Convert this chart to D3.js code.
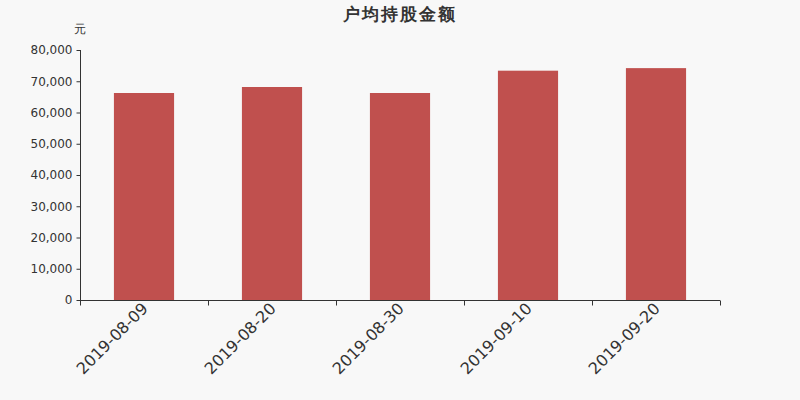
<!DOCTYPE html>
<html>
<head>
<meta charset="utf-8">
<script src="https://cdn.jsdelivr.net/npm/d3@7/dist/d3.min.js"></script>
<style>
  html, body { margin: 0; padding: 0; background: #f8f8f8; }
  svg { display: block; }
  svg text { font-family: "DejaVu Sans", sans-serif; }
</style>
</head>
<body>
<svg id="chart" width="800" height="400"></svg>
<script>
const categories = ["2019-08-09", "2019-08-20", "2019-08-30", "2019-09-10", "2019-09-20"];
const values = [66240, 68160, 66240, 73380, 74200];
const yTicks = [0, 10000, 20000, 30000, 40000, 50000, 60000, 70000, 80000];

const width = 800, height = 400;
const margin = { top: 50, right: 80, bottom: 100, left: 80 };
const innerWidth = width - margin.left - margin.right;
const innerHeight = height - margin.top - margin.bottom;

const svg = d3.select("#chart");

svg.append("rect")
    .attr("width", width)
    .attr("height", height)
    .attr("fill", "#f8f8f8");

const g = svg.append("g")
    .attr("transform", `translate(${margin.left},${margin.top})`);

const xScale = d3.scaleBand()
    .domain(categories)
    .range([0, innerWidth])
    .paddingInner(0.53)
    .paddingOuter(0.265);

const yScale = d3.scaleLinear()
    .domain([0, 80000])
    .range([innerHeight, 0]);

// bars
g.selectAll(".bar")
    .data(categories)
    .enter()
    .append("rect")
    .attr("class", "bar")
    .attr("x", d => xScale(d))
    .attr("y", (d, i) => yScale(values[i]))
    .attr("width", xScale.bandwidth())
    .attr("height", (d, i) => innerHeight - yScale(values[i]))
    .attr("fill", "#c0504e");

// y axis
const yAxis = g.append("g")
    .attr("transform", "translate(0.5,0)")
    .call(d3.axisLeft(yScale).tickValues(yTicks).tickSize(4).tickPadding(4)
        .tickFormat(d3.format(",")));
yAxis.attr("font-family", null).attr("font-size", null);
yAxis.select(".domain").attr("stroke", "#333").attr("d", `M0,${yScale(80000)}V${innerHeight}`);
yAxis.selectAll(".tick line").attr("stroke", "#333");
yAxis.selectAll("text")
    .attr("fill", "#333")
    .style("font-size", "12px");

// x axis, ticks on band boundaries
const xAxisG = g.append("g")
    .attr("transform", `translate(0,${innerHeight + 0.5})`);
xAxisG.append("line")
    .attr("x1", 0).attr("x2", innerWidth)
    .attr("stroke", "#333");
const edges = d3.range(categories.length + 1).map(i => i * xScale.step());
xAxisG.selectAll(".xtick")
    .data(edges)
    .enter()
    .append("line")
    .attr("x1", d => Math.round(d) + 0.5)
    .attr("x2", d => Math.round(d) + 0.5)
    .attr("y1", 0)
    .attr("y2", 5)
    .attr("stroke", "#333");
xAxisG.selectAll(".xlabel")
    .data(categories)
    .enter()
    .append("text")
    .attr("transform", d => `translate(${xScale(d) + xScale.bandwidth() / 2 + 5},9) rotate(-45)`)
    .attr("text-anchor", "end")
    .attr("fill", "#333")
    .style("font-size", "16px")
    .text(d => d);

// unit label
svg.append("text")
    .attr("x", 80)
    .attr("y", 33)
    .attr("text-anchor", "middle")
    .attr("fill", "#333")
    .style("font-size", "12px")
    .text("元");

// title
svg.append("text")
    .attr("x", width / 2)
    .attr("y", 20)
    .attr("text-anchor", "middle")
    .attr("fill", "#333")
    .style("font-size", "17px")
    .style("font-weight", "bold")
    .style("letter-spacing", "2px")
    .text("户均持股金额");
</script>
</body>
</html>
